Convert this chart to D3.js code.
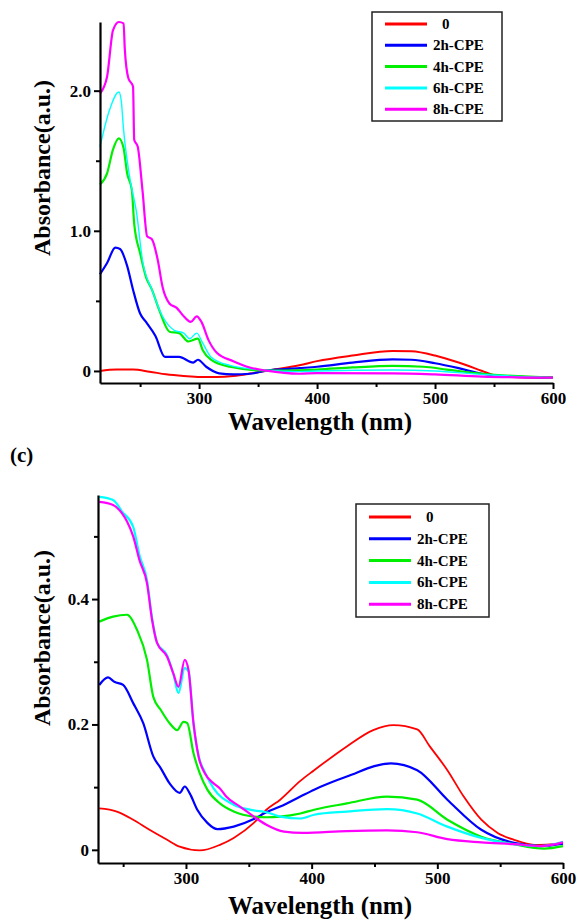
<!DOCTYPE html>
<html>
<head>
<meta charset="utf-8">
<script src="https://cdn.jsdelivr.net/npm/d3@7"></script>
<style>
  body { margin: 0; background: #fff; }
  svg { display: block; }
  text { font-family: "Liberation Serif", "Times New Roman", serif; font-weight: bold; }
</style>
</head>
<body>
<svg id="chart" width="578" height="921"></svg>
<script>
// series names and colours
const seriesNames = ["0", "2h-CPE", "4h-CPE", "6h-CPE", "8h-CPE"];
const seriesColors = ["#ff0000", "#0000ff", "#00ee00", "#00ffff", "#ff00ff"];

// top panel: [wavelength nm, absorbance]
const topRed = [[216,0.0],[230,0.01],[244,0.01],[258,-0.005],[272,-0.024],[287,-0.036],[301,-0.043],[315,-0.043],[329,-0.036],[343,-0.019],[357,0.002],[385,0.04],[400,0.07],[430,0.11],[464,0.143],[480,0.14],[500,0.11],[520,0.06],[540,0.0],[550,-0.03],[570,-0.045],[600,-0.048]];
const topBlue = [[216,0.69],[222,0.77],[229,0.88],[233,0.87],[239,0.75],[244,0.58],[250,0.41],[255,0.35],[263,0.25],[271,0.10],[283,0.10],[295,0.06],[299,0.08],[306,0.03],[317,-0.017],[329,-0.024],[343,-0.02],[357,0.002],[385,0.02],[400,0.03],[430,0.06],[464,0.083],[480,0.08],[500,0.055],[520,0.02],[540,-0.02],[560,-0.04],[600,-0.048]];
const topGreen = [[216,1.33],[222,1.41],[227,1.58],[232,1.66],[236,1.59],[239,1.41],[243,1.29],[245,1.05],[250,0.84],[255,0.67],[260,0.58],[266,0.44],[275,0.28],[283,0.27],[291,0.21],[299,0.23],[303,0.15],[310,0.08],[326,0.03],[357,0.002],[385,0.005],[400,0.01],[430,0.025],[464,0.036],[490,0.03],[510,0.01],[540,-0.02],[600,-0.048]];
const topCyan = [[216,1.60],[224,1.86],[232,1.99],[234,1.93],[236,1.72],[241,1.39],[247,1.13],[252,0.79],[260,0.58],[269,0.39],[279,0.29],[287,0.27],[292,0.23],[298,0.27],[303,0.20],[310,0.10],[326,0.04],[357,0.005],[385,-0.005],[400,0.0],[464,0.007],[500,0.0],[540,-0.025],[600,-0.048]];
const topMagenta = [[216,1.98],[222,2.10],[227,2.43],[232,2.49],[236,2.48],[237,2.30],[240,2.09],[244,2.03],[245,1.65],[248,1.60],[252,1.29],[256,0.96],[260,0.94],[265,0.79],[269,0.60],[275,0.48],[281,0.45],[286,0.40],[293,0.35],[298,0.39],[302,0.35],[308,0.22],[315,0.13],[329,0.07],[343,0.025],[357,0.002],[385,-0.02],[400,-0.015],[464,-0.017],[500,-0.025],[540,-0.04],[600,-0.048]];

// bottom panel (c): [wavelength nm, absorbance]
const botRed = [[231,0.066],[245,0.061],[258,0.048],[271,0.032],[285,0.016],[295,0.005],[311,-0.001],[327,0.008],[338,0.019],[354,0.043],[364,0.064],[375,0.08],[391,0.11],[402,0.127],[428,0.165],[449,0.191],[465,0.199],[484,0.192],[494,0.165],[508,0.127],[521,0.085],[535,0.048],[548,0.027],[561,0.016],[577,0.008],[600,0.01]];
const botBlue = [[231,0.263],[238,0.275],[243,0.268],[250,0.263],[258,0.234],[266,0.202],[274,0.149],[280,0.13],[287,0.106],[295,0.091],[299,0.101],[303,0.09],[309,0.064],[317,0.043],[325,0.033],[338,0.037],[354,0.049],[364,0.06],[375,0.069],[391,0.085],[402,0.096],[428,0.117],[463,0.138],[484,0.127],[508,0.08],[535,0.032],[561,0.011],[582,0.006],[600,0.01]];
const botGreen = [[231,0.364],[242,0.372],[253,0.375],[261,0.351],[269,0.303],[274,0.244],[280,0.223],[287,0.202],[293,0.191],[298,0.204],[301,0.202],[306,0.154],[311,0.122],[317,0.096],[327,0.074],[338,0.061],[354,0.053],[364,0.052],[375,0.053],[391,0.058],[402,0.064],[428,0.074],[460,0.085],[484,0.08],[508,0.048],[535,0.021],[561,0.009],[585,0.002],[600,0.006]];
const botCyan = [[231,0.563],[242,0.558],[249,0.54],[258,0.515],[263,0.47],[269,0.43],[273,0.37],[277,0.33],[285,0.31],[290,0.28],[294,0.25],[299,0.29],[302,0.285],[306,0.2],[310,0.15],[315,0.124],[322,0.098],[338,0.072],[354,0.063],[364,0.06],[375,0.053],[391,0.05],[402,0.056],[428,0.061],[460,0.065],[484,0.058],[508,0.037],[535,0.019],[561,0.009],[582,0.006],[600,0.013]];
const botMagenta = [[231,0.555],[242,0.55],[249,0.537],[253,0.524],[258,0.50],[263,0.462],[269,0.425],[273,0.367],[277,0.33],[285,0.308],[290,0.281],[294,0.26],[299,0.303],[302,0.287],[306,0.202],[310,0.149],[315,0.122],[322,0.106],[327,0.098],[332,0.085],[343,0.069],[354,0.053],[364,0.04],[378,0.029],[393,0.027],[428,0.03],[460,0.031],[484,0.028],[508,0.017],[535,0.012],[561,0.009],[582,0.006],[600,0.012]];

// axis ticks
const xMajor = [300, 400, 500, 600];
const xMinor = [250, 350, 450, 550];
const topYMajor = [0, 1.0, 2.0];
const topYMinor = [0.5, 1.5];
const botYMajor = [0, 0.2, 0.4];
const botYMinor = [0.1, 0.3, 0.5];

const svg = d3.select("#chart");

function panel(opt){
    const x = d3.scaleLinear().domain(opt.xDomain).range([opt.left, opt.right]);
    const y = d3.scaleLinear().domain(opt.yDomain).range([opt.bottom, opt.top]);
    const g = svg.append("g");

    const line = d3.line()
        .x(d => x(d[0]))
        .y(d => y(d[1]))
        .curve(d3.curveMonotoneX);

    opt.series.forEach((s, i) => {
        g.append("path")
            .datum(s)
            .attr("d", line)
            .attr("fill", "none")
            .attr("stroke", seriesColors[i])
            .attr("stroke-width", opt.widths[i])
            .attr("stroke-linejoin", "round");
    });

    // x axis
    const xAxis = g.append("g").attr("transform", `translate(0,${opt.bottom})`)
        .call(d3.axisBottom(x).tickValues(xMajor).tickSize(6).tickSizeOuter(0).tickFormat(d3.format("d")));
    g.append("g").attr("transform", `translate(0,${opt.bottom})`)
        .call(d3.axisBottom(x).tickValues(xMinor).tickSize(4).tickSizeOuter(0).tickFormat(""))
        .select(".domain").remove();

    // y axis
    const yAxis = g.append("g").attr("transform", `translate(${opt.left},0)`)
        .call(d3.axisLeft(y).tickValues(opt.yMajor).tickSize(6).tickSizeOuter(0)
            .tickFormat(d => d === 0 ? "0" : d3.format(".1f")(d)));
    g.append("g").attr("transform", `translate(${opt.left},0)`)
        .call(d3.axisLeft(y).tickValues(opt.yMinor).tickSize(4).tickSizeOuter(0).tickFormat(""))
        .select(".domain").remove();

    g.selectAll(".domain").attr("stroke", "#000").attr("stroke-width", 2.2);
    g.selectAll(".tick line").attr("stroke", "#000").attr("stroke-width", 2);
    xAxis.selectAll("text").attr("font-size", 17).attr("font-family", "Liberation Serif")
        .attr("font-weight", "bold").attr("y", 7).attr("dy", "0.8em").attr("fill", "#000");
    yAxis.selectAll("text").attr("font-size", 17).attr("font-family", "Liberation Serif")
        .attr("font-weight", "bold").attr("fill", "#000").attr("x", -9);

    // titles
    g.append("text")
        .attr("x", 320).attr("y", opt.xTitleY)
        .attr("text-anchor", "middle")
        .attr("font-size", 25)
        .text("Wavelength (nm)");
    g.append("text")
        .attr("transform", `translate(50,${opt.yTitleY}) rotate(-90)`)
        .attr("text-anchor", "middle")
        .attr("font-size", 24)
        .text("Absorbance(a.u.)");

    // legend
    const L = opt.legend;
    g.append("rect")
        .attr("x", L.x).attr("y", L.y).attr("width", L.w).attr("height", L.h)
        .attr("fill", "#fff").attr("stroke", "#222").attr("stroke-width", 1.5);
    seriesNames.forEach((n, i) => {
        const yy = L.y + L.first + i * L.step;
        g.append("line")
            .attr("x1", L.x + 13).attr("x2", L.x + 55)
            .attr("y1", yy).attr("y2", yy)
            .attr("stroke", seriesColors[i]).attr("stroke-width", 3);
        g.append("text")
            .attr("x", i === 0 ? L.x + 70 : L.x + 61).attr("y", yy + 5)
            .attr("font-size", 15)
            .text(n);
    });
}

panel({
    xDomain: [216, 600], yDomain: [-0.086, 2.49],
    left: 100, right: 553, top: 22, bottom: 383,
    series: [topRed, topBlue, topGreen, topCyan, topMagenta],
    widths: [2, 2.2, 2.2, 1.4, 2.2],
    yMajor: topYMajor, yMinor: topYMinor,
    xTitleY: 430, yTitleY: 168,
    legend: {x: 372, y: 12, w: 130, h: 109, first: 12, step: 21.3}
});

panel({
    xDomain: [230, 600], yDomain: [-0.021, 0.566],
    left: 98, right: 563, top: 495, bottom: 863,
    series: [botRed, botBlue, botGreen, botCyan, botMagenta],
    widths: [1.8, 2.2, 2.2, 2.2, 2.2],
    yMajor: botYMajor, yMinor: botYMinor,
    xTitleY: 914, yTitleY: 638,
    legend: {x: 356, y: 504, w: 133, h: 113, first: 13, step: 21.8}
});

svg.append("text")
    .attr("x", 10).attr("y", 462)
    .attr("font-size", 21)
    .text("(c)");
</script>
</body>
</html>
